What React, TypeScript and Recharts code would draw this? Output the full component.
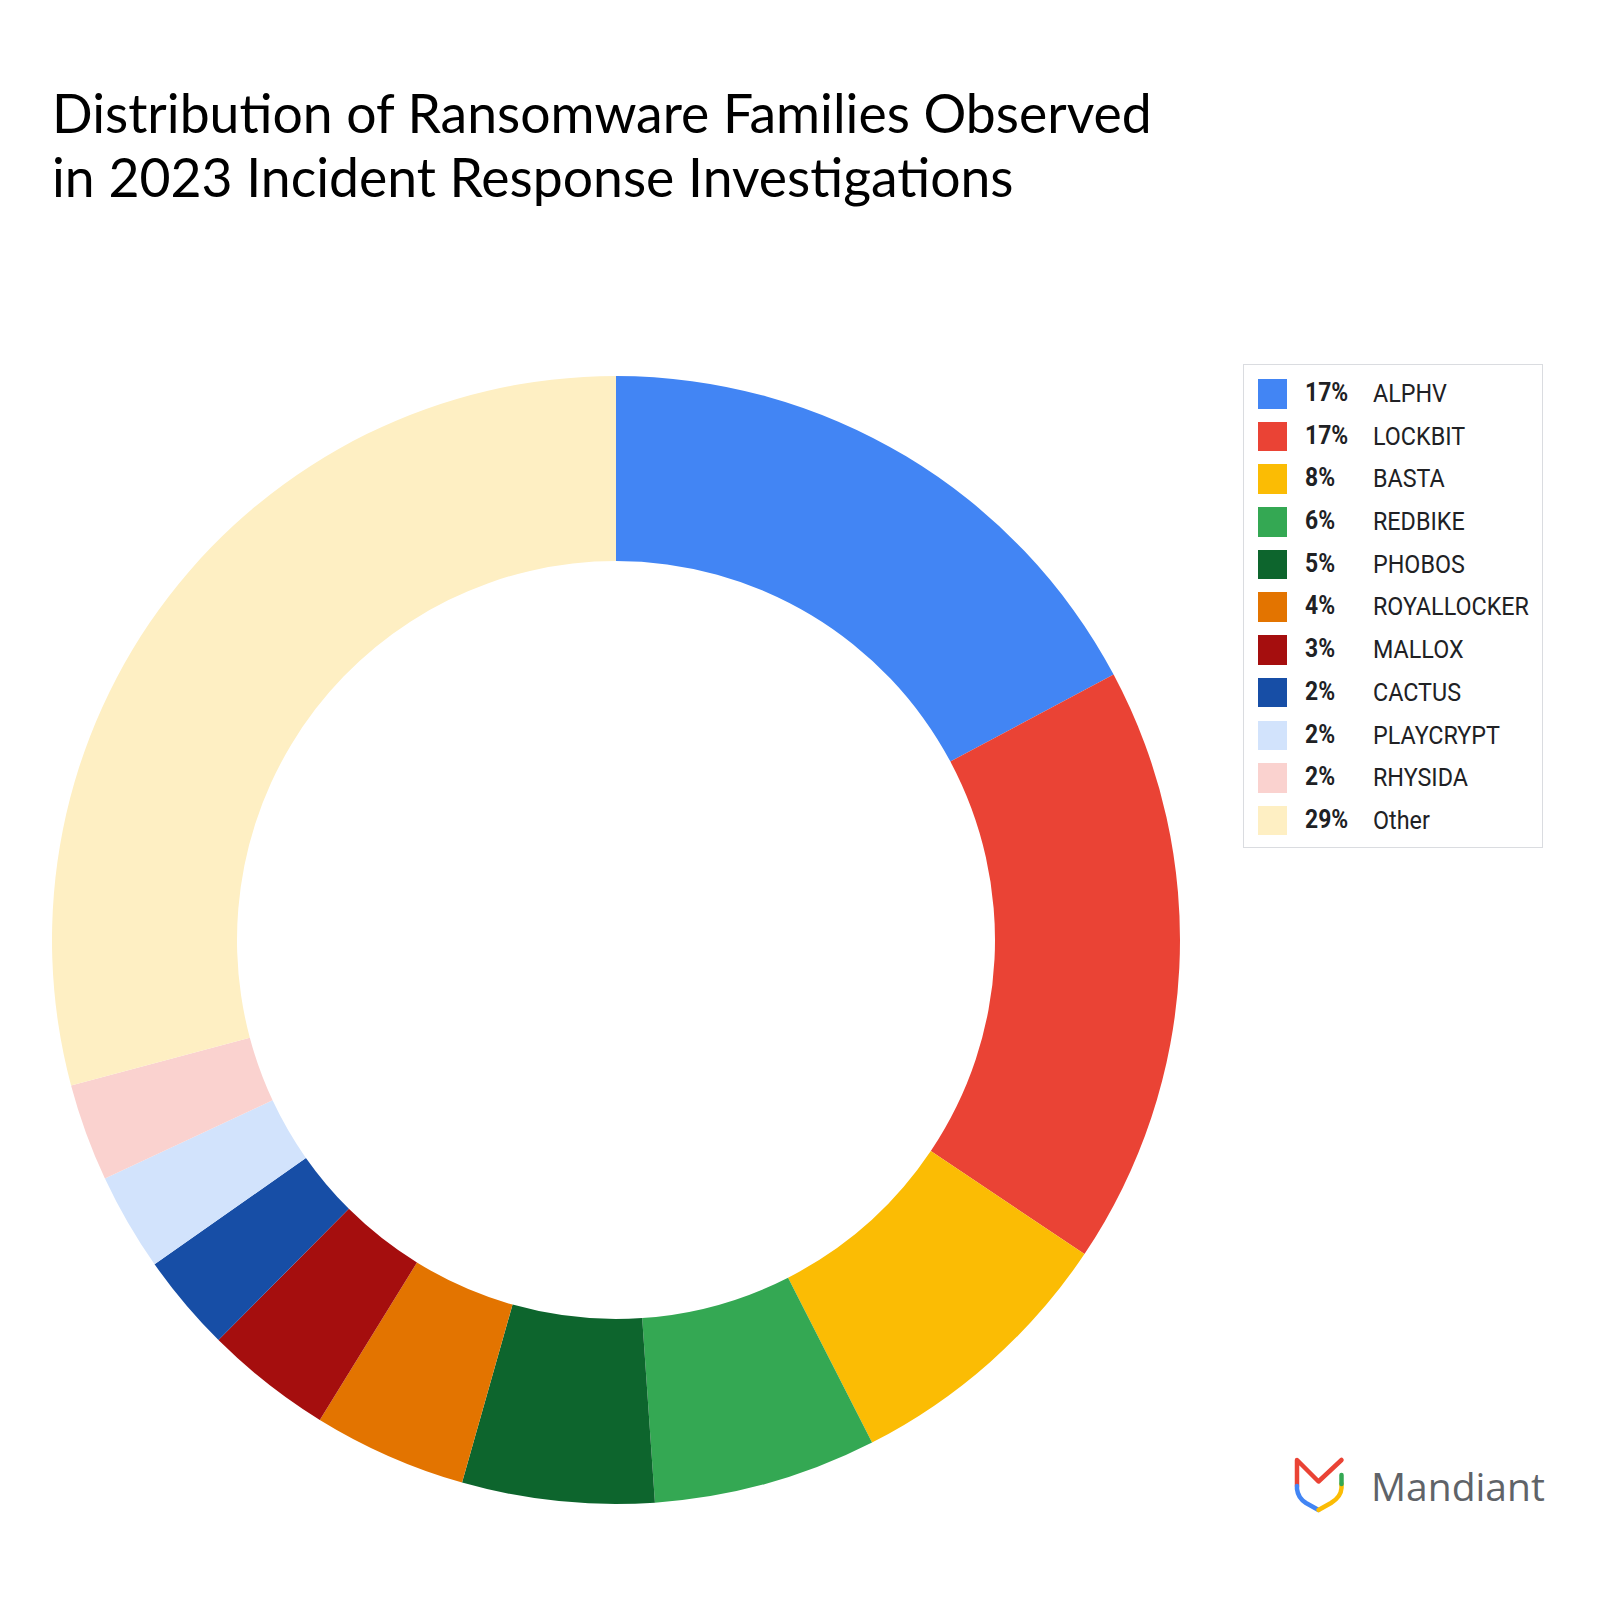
import React from "react";
import { PieChart, Pie, Cell, Legend } from "recharts";

const families = ["ALPHV", "LOCKBIT", "BASTA", "REDBIKE", "PHOBOS", "ROYALLOCKER", "MALLOX", "CACTUS", "PLAYCRYPT", "RHYSIDA", "Other"];
const shares = [17.2, 17.2, 8.1, 6.4, 5.5, 4.4, 3.65, 2.8, 2.8, 2.8, 29.15];
const pctLabels = ["17%", "17%", "8%", "6%", "5%", "4%", "3%", "2%", "2%", "2%", "29%"];
const colors = ["#4285F4", "#EA4335", "#FBBC04", "#34A853", "#0D652D", "#E37400", "#A50E0E", "#174EA6", "#D2E3FC", "#FAD2CF", "#FEEFC3"];

const data = families.map((name, i) => ({ name, value: shares[i] }));

const W = 1598;
const H = 1600;

// legend keeps the series order (recharts sorts the payload by name)
function LegendBox() {
  return (
    <div
      style={{
        width: 300,
        height: 484,
        boxSizing: "border-box",
        border: "1.5px solid #dadce0",
        paddingTop: 14,
        paddingLeft: 14,
        fontFamily: "Roboto, sans-serif",
        color: "#202124",
      }}
    >
      {families.map((name, i) => (
        <div key={name} style={{ position: "relative", height: 42.7 }}>
          <span
            style={{
              position: "absolute",
              left: 0,
              top: 0,
              width: 29,
              height: 29.5,
              background: colors[i],
            }}
          />
          <span
            style={{
              position: "absolute",
              left: 47,
              top: -2,
              lineHeight: "31px",
              fontSize: 26,
              fontWeight: 700,
              transform: "scaleX(0.88)",
              transformOrigin: "left center",
              whiteSpace: "nowrap",
            }}
          >
            {pctLabels[i]}
          </span>
          <span
            style={{
              position: "absolute",
              left: 115,
              top: -2,
              lineHeight: "31px",
              fontSize: 26.5,
              fontWeight: 400,
              transform: "scaleX(0.88)",
              transformOrigin: "left center",
              whiteSpace: "nowrap",
            }}
          >
            {name}
          </span>
        </div>
      ))}
    </div>
  );
}

function MandiantLogo() {
  return (
    <svg
      width={W}
      height={H}
      style={{ position: "absolute", left: 0, top: 0, pointerEvents: "none" }}
    >
      <g fill="none" strokeWidth={4.5} strokeLinecap="round" strokeLinejoin="round">
        <path d="M1297 1486 V1460 L1318.5 1481.5 L1341.5 1460" stroke="#EA4335" />
        <path d="M1297 1486 V1489 Q1298 1498 1306 1503 L1318.5 1510" stroke="#4285F4" />
        <path d="M1318.5 1510 L1331 1503 Q1341 1497 1341.5 1488 V1484" stroke="#FBBC04" />
        <path d="M1341.5 1484 V1475" stroke="#34A853" />
      </g>
      <text
        x={1371}
        y={1501}
        fontFamily="'Open Sans', sans-serif"
        fontSize={39}
        fontWeight={500}
        fill="#5f6368"
      >
        Mandiant
      </text>
    </svg>
  );
}

export default function App() {
  return (
    <div
      style={{
        position: "absolute",
        left: 0,
        top: 0,
        width: W,
        height: H,
        background: "#fff",
        overflow: "hidden",
      }}
    >
      <div
        style={{
          position: "absolute",
          left: 52,
          top: 80,
          fontFamily: "Lato, sans-serif",
          fontSize: 53.5,
          lineHeight: "64px",
          color: "#000",
          whiteSpace: "nowrap",
        }}
      >
        Distribution of Ransomware Families Observed
        <br />
        in 2023 Incident Response Investigations
      </div>

      <PieChart
        width={W}
        height={H}
        margin={{ top: 0, right: 0, bottom: 0, left: 0 }}
        style={{ position: "absolute", left: 0, top: 0 }}
      >
        <Pie
          data={data}
          dataKey="value"
          nameKey="name"
          cx={616}
          cy={940}
          innerRadius={379}
          outerRadius={564}
          startAngle={90}
          endAngle={-270}
          stroke="none"
          isAnimationActive={false}
        >
          {data.map((_, i) => (
            <Cell key={i} fill={colors[i]} />
          ))}
        </Pie>
        <Legend
          content={<LegendBox />}
          layout="vertical"
          verticalAlign="top"
          align="right"
          wrapperStyle={{ position: "absolute", left: 1243, top: 364, width: 300, height: 484 }}
        />
      </PieChart>

      <MandiantLogo />
    </div>
  );
}
